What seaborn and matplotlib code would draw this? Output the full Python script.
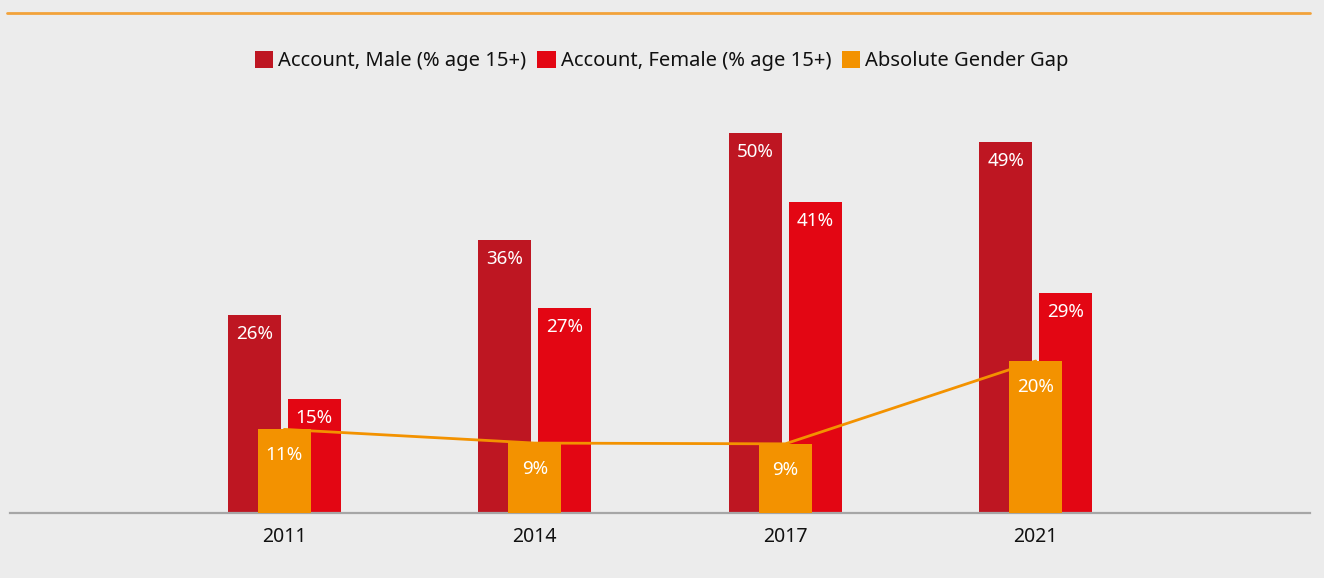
import numpy as np
import pandas as pd
import seaborn as sns
import matplotlib.pyplot as plt
from matplotlib.patches import Patch
from matplotlib.lines import Line2D

years = ['2011', '2014', '2017', '2021']
male = [26.0, 35.9, 50.0, 48.8]
female = [15.0, 27.0, 40.9, 28.9]
gap = [11.0, 9.2, 9.1, 20.0]
series = ['Account, Male (% age 15+)', 'Account, Female (% age 15+)', 'Absolute Gender Gap']

c_male, c_female, c_gap = '#be1622', '#e30613', '#f39200'
bg = '#ececec'

df = pd.DataFrame({'Year': years * 2,
                   'Value': male + female,
                   'Series': [series[0]] * 4 + [series[1]] * 4})

sns.set_theme(style='white')
plt.rcParams['font.family'] = ['Noto Sans', 'DejaVu Sans']

fig = plt.figure(figsize=(13.24, 5.78), dpi=100, facecolor=bg)
ax = fig.add_axes([10 / 1324, 1 - 513 / 578, 1300 / 1324, 413 / 578])
ax.set_facecolor(bg)

sns.barplot(data=df, x='Year', y='Value', hue='Series', order=years,
            hue_order=series[:2], palette=[c_male, c_female], width=0.48, gap=0.12,
            saturation=1, errorbar=None, legend=False, ax=ax, zorder=2,
            edgecolor='none', linewidth=0)
sns.lineplot(x=years, y=gap, sort=False, color=c_gap, lw=2.0, ax=ax, zorder=3)
sns.barplot(x=years, y=gap, order=years, color=c_gap, width=0.211,
            saturation=1, errorbar=None, ax=ax, zorder=4, edgecolor='none', linewidth=0)

# value labels
fs = 13.5
for i in range(len(years)):
    ax.text(i - 0.12, male[i] - 2.5, f'{male[i]:.0f}%', ha='center', va='center',
            color='white', fontsize=fs, zorder=5)
    ax.text(i + 0.12, female[i] - 2.5, f'{female[i]:.0f}%', ha='center', va='center',
            color='white', fontsize=fs, zorder=5)
    ax.text(i, gap[i] - 3.4, f'{gap[i]:.0f}%', ha='center', va='center',
            color='white', fontsize=fs, zorder=5)

ax.set_xlim(-1.095, 4.095)
ax.set_ylim(0, 54.34)
ax.set_xticks(range(len(years)))
ax.set_xticklabels(years, fontsize=14, color='#111111')
ax.set_yticks([])
ax.set_xlabel('')
ax.set_ylabel('')
ax.tick_params(axis='x', length=0, pad=10)
for s in ['top', 'left', 'right']:
    ax.spines[s].set_visible(False)
ax.spines['bottom'].set_color('#a6a6a6')
ax.spines['bottom'].set_linewidth(1.6)

# top rule
fig.add_artist(Line2D([7 / 1324, 1310 / 1324], [1 - 13 / 578] * 2,
                      transform=fig.transFigure, color='#f2a23a', lw=2))

handles = [Patch(facecolor=c, edgecolor='none') for c in (c_male, c_female, c_gap)]
fig.legend(handles, series, loc='center', bbox_to_anchor=(0.5, 1 - 61 / 578),
           ncol=3, frameon=False, fontsize=14.5, handlelength=0.9, handleheight=0.9,
           handletextpad=0.25, columnspacing=0.55, labelcolor='#111111')

fig.savefig('out.png', dpi=100, facecolor=bg)
